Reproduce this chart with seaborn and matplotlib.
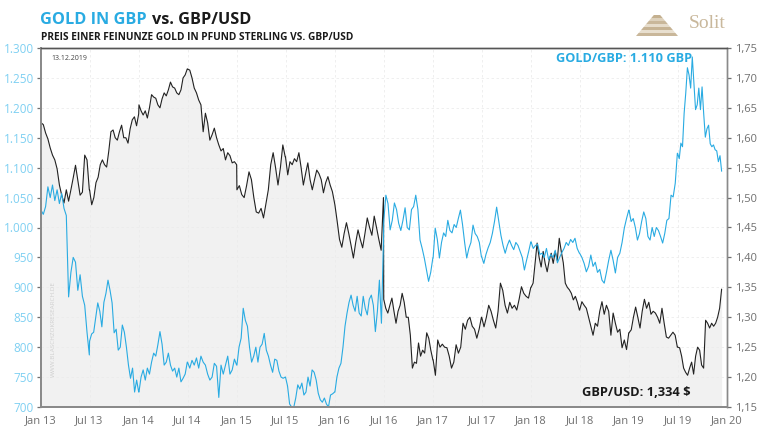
import matplotlib
matplotlib.use("Agg")
import matplotlib.pyplot as plt
import matplotlib.dates as mdates
import numpy as np
import pandas as pd
import seaborn as sns

sns.set_style("white")
plt.rcParams['font.family'] = ['Open Sans', 'DejaVu Sans']

BLUE = '#29abe2'
LABEL_BLUE = '#7fd0f2'
GREY = '#6f6f6f'

# half year boundaries, values of each half are spread evenly between two of them
half_starts = ['2013-01-01', '2013-07-01', '2014-01-01', '2014-07-01', '2015-01-01', '2015-07-01', '2016-01-01',
               '2016-07-01', '2017-01-01', '2017-07-01', '2018-01-01', '2018-07-01', '2019-01-01', '2019-07-01',
               '2019-12-13']

# GBP/USD
usd_13a = [1.625, 1.622, 1.608, 1.598, 1.583, 1.571, 1.563, 1.548, 1.521, 1.504, 1.491, 1.513, 1.494, 1.513, 1.533,
           1.554, 1.529, 1.504, 1.509, 1.571, 1.563, 1.513]
usd_13b = [1.513, 1.488, 1.50, 1.525, 1.534, 1.555, 1.563, 1.555, 1.551, 1.578, 1.61, 1.613, 1.60, 1.596, 1.61,
           1.621, 1.60, 1.60, 1.591, 1.615, 1.63, 1.635, 1.62, 1.64]
usd_14a = [1.655, 1.645, 1.638, 1.645, 1.633, 1.65, 1.672, 1.668, 1.666, 1.655, 1.65, 1.665, 1.675, 1.67, 1.68,
           1.693, 1.685, 1.683, 1.675, 1.672, 1.68, 1.70, 1.705, 1.715]
usd_14b = [1.715, 1.713, 1.70, 1.683, 1.675, 1.663, 1.655, 1.61, 1.641, 1.625, 1.596, 1.605, 1.616, 1.60, 1.588,
           1.578, 1.582, 1.563, 1.575, 1.57, 1.558, 1.56, 1.555]
usd_15a = [1.513, 1.52, 1.505, 1.50, 1.52, 1.543, 1.53, 1.50, 1.476, 1.474, 1.482, 1.466, 1.49, 1.513, 1.555, 1.575,
           1.55, 1.521, 1.55, 1.588, 1.568]
usd_15b = [1.568, 1.538, 1.56, 1.555, 1.565, 1.56, 1.575, 1.55, 1.521, 1.54, 1.558, 1.53, 1.513, 1.53, 1.546, 1.54,
           1.53, 1.508, 1.525, 1.535, 1.521, 1.51, 1.49]
usd_16a = [1.488, 1.46, 1.43, 1.417, 1.44, 1.458, 1.44, 1.42, 1.399, 1.425, 1.446, 1.43, 1.416, 1.44, 1.466, 1.45,
           1.437, 1.469, 1.45, 1.43, 1.412, 1.50]
usd_16b = [1.33, 1.315, 1.307, 1.32, 1.332, 1.31, 1.29, 1.31, 1.32, 1.34, 1.325, 1.30, 1.30, 1.27, 1.215, 1.225,
           1.223, 1.257, 1.235, 1.245, 1.24, 1.274, 1.265, 1.245, 1.229]
usd_17a = [1.229, 1.203, 1.262, 1.25, 1.255, 1.25, 1.249, 1.235, 1.215, 1.225, 1.254, 1.24, 1.25, 1.29, 1.28, 1.295,
           1.30, 1.285, 1.28, 1.265, 1.28, 1.30]
usd_17b = [1.30, 1.284, 1.30, 1.32, 1.31, 1.295, 1.282, 1.31, 1.357, 1.345, 1.32, 1.307, 1.325, 1.315, 1.32, 1.312,
           1.33, 1.351, 1.34, 1.335, 1.332, 1.35]
usd_18a = [1.35, 1.357, 1.39, 1.424, 1.40, 1.384, 1.41, 1.39, 1.376, 1.395, 1.407, 1.39, 1.41, 1.395, 1.432, 1.41,
           1.391, 1.357, 1.35, 1.346, 1.34, 1.329, 1.335, 1.325, 1.312]
usd_18b = [1.312, 1.326, 1.32, 1.315, 1.30, 1.285, 1.27, 1.29, 1.285, 1.31, 1.326, 1.305, 1.32, 1.31, 1.27, 1.307,
           1.29, 1.275, 1.28, 1.249, 1.262, 1.246, 1.274]
usd_19a = [1.274, 1.279, 1.30, 1.317, 1.30, 1.282, 1.31, 1.33, 1.315, 1.325, 1.305, 1.31, 1.307, 1.30, 1.29, 1.315,
           1.29, 1.267, 1.265, 1.27, 1.275, 1.27, 1.25]
usd_19b = [1.25, 1.249, 1.235, 1.215, 1.208, 1.203, 1.215, 1.225, 1.205, 1.235, 1.25, 1.245, 1.22, 1.215, 1.295,
           1.29, 1.282, 1.29, 1.285, 1.29, 1.30, 1.315, 1.347]

# gold in GBP
gold_13a = [1029, 1022, 1035, 1068, 1050, 1071, 1045, 1063, 1040, 1057, 1032, 1020, 884, 925, 950, 942, 895, 921,
            885, 870, 825, 787]
gold_13b = [810, 822, 825, 850, 874, 860, 834, 875, 890, 912, 895, 874, 824, 830, 795, 800, 837, 825, 800, 770, 748,
            765, 725, 745, 725]
gold_14a = [725, 750, 762, 745, 765, 755, 775, 790, 785, 804, 826, 805, 770, 775, 790, 770, 760, 765, 750, 765, 742,
            748, 755, 775]
gold_14b = [775, 765, 778, 770, 782, 765, 785, 775, 770, 755, 745, 750, 773, 768, 716, 770, 755, 770, 785, 755, 762,
            780, 770]
gold_15a = [770, 800, 815, 865, 845, 835, 800, 775, 785, 800, 775, 800, 805, 823, 795, 785, 770, 758, 780, 778, 760,
            750, 748, 750]
gold_15b = [750, 735, 705, 700, 699, 715, 737, 730, 740, 720, 725, 750, 735, 762, 758, 745, 723, 712, 708, 715, 705,
            700, 720, 722, 725]
gold_16a = [725, 750, 765, 773, 800, 835, 857, 875, 887, 870, 860, 885, 857, 852, 885, 865, 854, 880, 887, 870, 826,
            860, 912, 840, 980]
gold_16b = [1010, 1054, 1040, 996, 1012, 1041, 1030, 1007, 995, 1012, 1033, 1000, 996, 1030, 1035, 1054, 1030, 979,
            965, 949, 929, 910, 925, 949]
gold_17a = [949, 999, 980, 949, 975, 991, 985, 1012, 995, 991, 1005, 1000, 1015, 1029, 1005, 975, 949, 965, 975,
            1004, 990, 985, 975, 951]
gold_17b = [951, 940, 955, 966, 975, 990, 1010, 1034, 1010, 987, 970, 957, 970, 979, 970, 963, 975, 970, 960, 950,
            929, 945, 960, 976]
gold_18a = [976, 965, 970, 972, 955, 957, 950, 965, 946, 955, 950, 962, 941, 950, 958, 965, 975, 970, 980, 975, 982,
            965, 957]
gold_18b = [957, 950, 940, 926, 935, 954, 935, 942, 925, 930, 912, 907, 925, 945, 962, 945, 924, 950, 957, 975, 999,
            1015, 1029]
gold_19a = [1029, 1010, 1015, 1000, 979, 990, 1010, 1026, 1015, 985, 979, 1000, 985, 1000, 995, 985, 974, 990, 1012,
            1015, 1054, 1051, 1074, 1124]
gold_19b = [1124, 1115, 1141, 1135, 1191, 1225, 1267, 1255, 1233, 1285, 1240, 1197, 1205, 1233, 1197, 1235, 1190,
            1151, 1165, 1171, 1140, 1135, 1138, 1130, 1128, 1110, 1120, 1094]

usd_halves = [usd_13a, usd_13b, usd_14a, usd_14b, usd_15a, usd_15b, usd_16a, usd_16b, usd_17a, usd_17b, usd_18a,
              usd_18b, usd_19a, usd_19b]
gold_halves = [gold_13a, gold_13b, gold_14a, gold_14b, gold_15a, gold_15b, gold_16a, gold_16b, gold_17a, gold_17b,
               gold_18a, gold_18b, gold_19a, gold_19b]

gold_ticks = [700, 750, 800, 850, 900, 950, 1000, 1050, 1100, 1150, 1200, 1250, 1300]
gold_labels = ['700', '750', '800', '850', '900', '950', '1.000', '1.050', '1.100', '1.150', '1.200', '1.250', '1.300']
usd_ticks = [1.15, 1.20, 1.25, 1.30, 1.35, 1.40, 1.45, 1.50, 1.55, 1.60, 1.65, 1.70, 1.75]
usd_labels = ['1,15', '1,20', '1,25', '1,30', '1,35', '1,40', '1,45', '1,50', '1,55', '1,60', '1,65', '1,70', '1,75']
date_ticks = ['2013-01-01', '2013-07-01', '2014-01-01', '2014-07-01', '2015-01-01', '2015-07-01', '2016-01-01',
              '2016-07-01', '2017-01-01', '2017-07-01', '2018-01-01', '2018-07-01', '2019-01-01', '2019-07-01',
              '2020-01-01']
date_labels = ['Jan 13', 'Jul 13', 'Jan 14', 'Jul 14', 'Jan 15', 'Jul 15', 'Jan 16', 'Jul 16', 'Jan 17', 'Jul 17',
               'Jan 18', 'Jul 18', 'Jan 19', 'Jul 19', 'Jan 20']


def to_frame(halves):
    # spread each half year's readings evenly over its dates
    frames = []
    for i, vals in enumerate(halves):
        start = pd.Timestamp(half_starts[i])
        end = pd.Timestamp(half_starts[i + 1]) - pd.Timedelta(days=1)
        frames.append(pd.DataFrame({'date': pd.date_range(start, end, periods=len(vals)), 'value': vals}))
    return pd.concat(frames, ignore_index=True)


usd = to_frame(usd_halves)
gold = to_frame(gold_halves)

W, H = 768, 432
fig = plt.figure(figsize=(W / 100, H / 100), dpi=100)
ax = fig.add_axes([41 / W, 1 - 407 / H, (727 - 41) / W, (407 - 48) / H])

ax.fill_between(usd['date'], usd['value'], 1.15, color='#f1f1f1', lw=0, zorder=1)
sns.lineplot(data=usd, x='date', y='value', ax=ax, color='#222222', lw=0.8, estimator=None, sort=False, zorder=3)
ax.grid(True, color='#ececec', lw=0.6, ls=(0, (3, 3)), zorder=2)
ax.set_axisbelow(False)
ax.set_xlim(pd.Timestamp('2013-01-01'), pd.Timestamp('2020-01-01'))
ax.set_ylim(1.15, 1.75)
ax.set_xlabel('')
ax.set_ylabel('')
ax.set_xticks([mdates.date2num(pd.Timestamp(d)) for d in date_ticks])
ax.set_xticklabels(date_labels)

# twinx moves the first axis ticks, so sides get set after it
ax2 = ax.twinx()
sns.lineplot(data=gold, x='date', y='value', ax=ax2, color=BLUE, lw=0.8, estimator=None, sort=False)
ax2.set_ylim(700, 1300)
ax2.set_ylabel('')
ax2.yaxis.tick_left()
ax2.set_yticks(gold_ticks)
ax2.set_yticklabels(gold_labels)
ax2.tick_params(axis='y', labelcolor=LABEL_BLUE, labelsize=8.5, length=3, width=0.9, pad=2, color=GREY)

ax.yaxis.tick_right()
ax.set_yticks(usd_ticks)
ax.set_yticklabels(usd_labels)
ax.tick_params(axis='both', colors=GREY, labelsize=8, length=3, width=0.9, pad=3)

for a in (ax, ax2):
    for name, sp in a.spines.items():
        sp.set_color('#8a8a8a')
        sp.set_linewidth(1.4 if name in ('left', 'bottom') else 1.0)
    a.spines['top'].set_color('#555555')


def fx(px):
    return px / W


def fy(py):
    return 1 - py / H


# titles
t1 = fig.text(fx(40), fy(20), 'GOLD IN GBP', color=BLUE, fontsize=11.7, fontweight='bold', va='center')
fig.canvas.draw()
bb = t1.get_window_extent()
fig.text(fx(bb.x1 + 5), fy(20), 'vs. GBP/USD', color='#1a1a1a', fontsize=11.7, fontweight='bold', va='center')
fig.text(fx(41), fy(37), 'PREIS EINER FEINUNZE GOLD IN PFUND STERLING VS. GBP/USD', color='#1a1a1a', fontsize=7.3,
         fontweight='bold', va='center')

# annotations
fig.text(fx(51), fy(58), '13.12.2019', color='#444444', fontsize=5, va='center')
fig.text(fx(692), fy(59), 'GOLD/GBP: 1.110 GBP', color=BLUE, fontsize=9.2, fontweight='bold', va='center', ha='right')
fig.text(fx(691), fy(392), 'GBP/USD: 1,334 $', color='#1a1a1a', fontsize=9.3, fontweight='bold', va='center', ha='right')
fig.text(fx(53), fy(329), 'WWW.BLASCHZOKRESEARCH.DE', color='#d0d0d0', fontsize=4.6, rotation=90, va='center',
         ha='center')

# logo
logo = fig.add_axes([fx(636), fy(36), fx(42), 22 / H])
logo.axis('off')
logo.set_xlim(-21, 21)
logo.set_ylim(0, 22)
for i, shade in enumerate(['#c9b79a', '#e8dfcf', '#c6b394', '#e6dccb', '#c9b79a', '#ddd1bc', '#c4b08f']):
    y0, y1 = i * 3, i * 3 + 3
    w0, w1 = 21 - y0 * 0.85, 21 - y1 * 0.85
    logo.fill([-w0, w0, w1, -w1], [y0, y0, y1, y1], color=shade, lw=0)
fig.text(fx(689), fy(24), 'Solit', color='#c9b89c', fontsize=14, family='Liberation Serif', va='center')

fig.savefig('out.png', dpi=100)
